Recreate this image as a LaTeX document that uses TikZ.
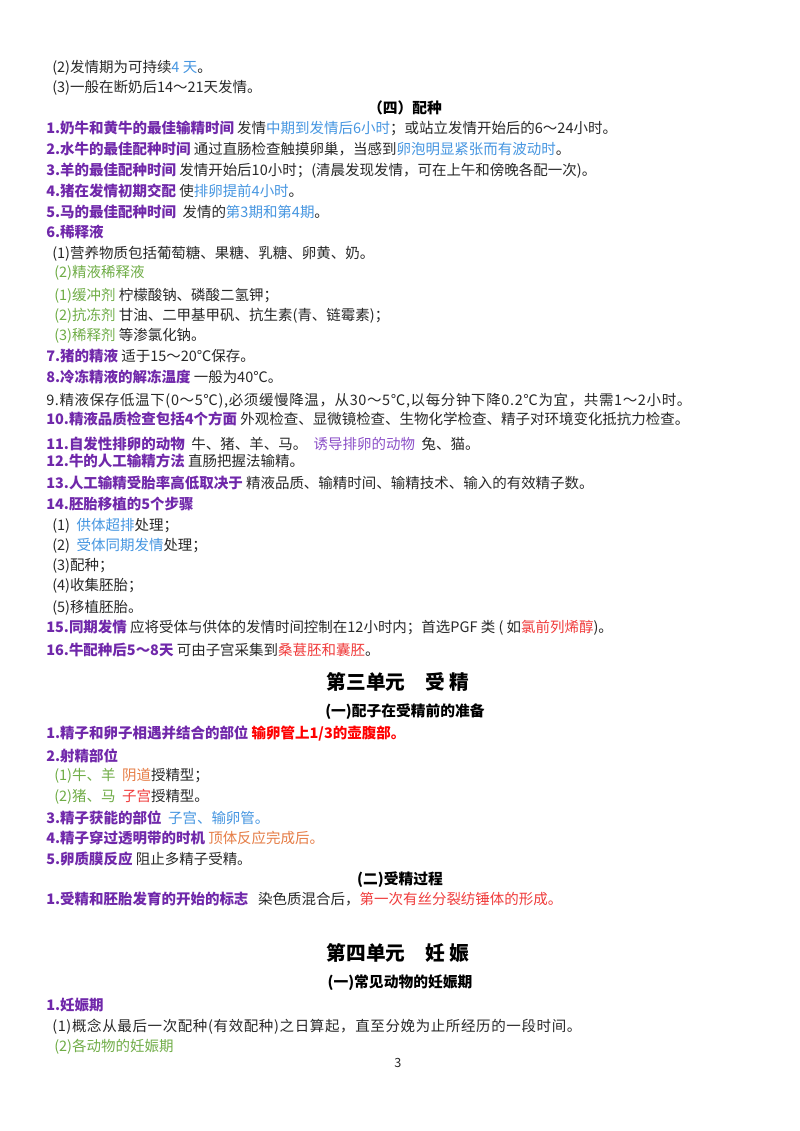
\documentclass[tikz,border=0pt]{standalone}
\usepackage{fontspec}
\setmainfont{Noto Sans CJK SC}
\definecolor{ink}{RGB}{40,40,40}
\definecolor{hdpurple}{RGB}{112,40,170}
\definecolor{lpurple}{RGB}{140,80,200}
\definecolor{lblue}{RGB}{70,150,225}
\definecolor{lgreen}{RGB}{112,173,71}
\definecolor{lred}{RGB}{240,60,60}
\definecolor{hred}{RGB}{255,0,0}
\definecolor{lorange}{RGB}{230,125,70}
\newcommand{\hd}[1]{\textcolor{hdpurple}{\bfseries #1}}
\newcommand{\blu}[1]{\textcolor{lblue}{#1}}
\newcommand{\grn}[1]{\textcolor{lgreen}{#1}}
\newcommand{\rdd}[1]{\textcolor{lred}{#1}}
\newcommand{\org}[1]{\textcolor{lorange}{#1}}
\tikzset{
    txt/.style={anchor=west,inner sep=0pt,text=ink,font=\fontsize{10.3}{12}\selectfont},
    wide/.style={txt,font=\fontsize{10.3}{12}\selectfont\addfontfeatures{LetterSpace=4.4}},
    ttl/.style={inner sep=0pt,font=\fontsize{14}{16}\selectfont\bfseries},
    sub/.style={inner sep=0pt,font=\fontsize{10.5}{12}\selectfont\bfseries}
}
\begin{document}
\begin{tikzpicture}[x=0.025cm,y=-0.025cm]
            \path[fill=white] (0,0) rectangle (800,1131);
            \node[txt] (est2) at (52,68) {(2)发情期为可持续\blu{4 天}。};
            \node[txt] (est3) at (52,88) {(3)一般在断奶后14～21天发情。};
            \node[sub] (sec4) at (405,108) {（四）配种};
            \node[txt] (mate1) at (46,128) {\hd{1.奶牛和黄牛的最佳输精时间} 发情\blu{中期到发情后6小时}；或站立发情开始后的6～24小时。};
            \node[txt] (mate2) at (46,149) {\hd{2.水牛的最佳配种时间} 通过直肠检查触摸卵巢，当感到\blu{卵泡明显紧张而有波动时}。};
            \node[txt] (mate3) at (46,171) {\hd{3.羊的最佳配种时间} 发情开始后10小时；(清晨发现发情，可在上午和傍晚各配一次)。};
            \node[txt] (mate4) at (46,191) {\hd{4.猪在发情初期交配} 使\blu{排卵提前4小时}。};
            \node[txt] (mate5) at (46,212) {\hd{5.马的最佳配种时间}\ \ 发情的\blu{第3期和第4期}。};
            \node[txt] (dil) at (46,232) {\hd{6.稀释液}};
            \node[txt] (dil1) at (52,254) {(1)营养物质包括葡萄糖、果糖、乳糖、卵黄、奶。};
            \node[txt] (dil2) at (54,273) {\grn{(2)精液稀释液}};
            \node[txt] (dila) at (54,296) {\grn{(1)缓冲剂} 柠檬酸钠、磷酸二氢钾；};
            \node[txt] (dilb) at (54,316) {\grn{(2)抗冻剂} 甘油、二甲基甲矾、抗生素(青、链霉素)；};
            \node[txt] (dilc) at (54,336) {\grn{(3)稀释剂} 等渗氯化钠。};
            \node[txt] (it7) at (46,356) {\hd{7.猪的精液} 适于15～20℃保存。};
            \node[txt] (it8) at (46,377) {\hd{8.冷冻精液的解冻温度} 一般为40℃。};
            \node[wide] (it9) at (46,401) {9.精液保存低温下(0～5℃),必须缓慢降温，从30～5℃,以每分钟下降0.2℃为宜，共需1～2小时。};
            \node[txt] (it10) at (46,419) {\hd{10.精液品质检查包括4个方面} 外观检查、显微镜检查、生物化学检查、精子对环境变化抵抗力检查。};
            \node[txt] (it11) at (46,444) {\hd{11.自发性排卵的动物}\ \ 牛、猪、羊、马。\ \ \textcolor{lpurple}{诱导排卵的动物}\ \ 兔、猫。};
            \node[txt] (it12) at (46,461) {\hd{12.牛的人工输精方法} 直肠把握法输精。};
            \node[txt] (it13) at (46,483) {\hd{13.人工输精受胎率高低取决于} 精液品质、输精时间、输精技术、输入的有效精子数。};
            \node[txt] (it14) at (46,504) {\hd{14.胚胎移植的5个步骤}};
            \node[txt] (st1) at (52,526) {(1)\ \ \blu{供体超排}处理；};
            \node[txt] (st2) at (52,546) {(2)\ \ \blu{受体同期发情}处理；};
            \foreach \y/\n/\t [count=\i from 3] in {566/3/配种；,586/4/收集胚胎；,608/5/移植胚胎。}{
                \node[txt] (st\i) at (52,\y) {(\n)\t};
            }
            \node[txt] (it15) at (46,628) {\hd{15.同期发情} 应将受体与供体的发情时间控制在12小时内；首选PGF 类 ( 如\rdd{氯前列烯醇})。};
            \node[txt] (it16) at (46,650) {\hd{16.牛配种后5～8天} 可由子宫采集到\rdd{桑葚胚和囊胚}。};
            \node[ttl] (unit3) at (398,682) {第三单元\quad 受\ 精};
            \node[sub] (fert1) at (405,712) {(一)配子在受精前的准备};
            \node[txt] (f1) at (46,733) {\hd{1.精子和卵子相遇并结合的部位} \textcolor{hred}{\bfseries 输卵管上1/3的壶腹部。}};
            \node[txt] (f2) at (46,756) {\hd{2.射精部位}};
            \node[txt] (f2a) at (54,776) {\grn{(1)牛、羊}\ \ \org{阴道}授精型；};
            \node[txt] (f2b) at (54,797) {\grn{(2)猪、马}\ \ \rdd{子宫}授精型。};
            \node[txt] (f3) at (46,818) {\hd{3.精子获能的部位}\ \ \blu{子宫、输卵管。}};
            \node[txt] (f4) at (46,838) {\hd{4.精子穿过透明带的时机} \org{顶体反应完成后。}};
            \node[txt] (f5) at (46,859) {\hd{5.卵质膜反应} 阻止多精子受精。};
            \node[sub] (fert2) at (400,880) {(二)受精过程};
            \node[txt] (g1) at (46,899) {\hd{1.受精和胚胎发育的开始的标志}\ \ \ 染色质混合后，\rdd{第一次有丝分裂纺锤体的形成。}};
            \node[ttl] (unit4) at (398,953) {第四单元\quad 妊\ 娠};
            \node[sub] (preg1) at (400,983) {(一)常见动物的妊娠期};
            \node[txt] (p1) at (46,1005) {\hd{1.妊娠期}};
            \node[wide] (p1a) at (52,1027) {(1)概念从最后一次配种(有效配种)之日算起，直至分娩为止所经历的一段时间。};
            \node[txt] (p1b) at (54,1047) {\grn{(2)各动物的妊娠期}};
            \node[txt,anchor=center,font=\fontsize{9}{10}\selectfont] (page) at (398,1063) {3};
        \end{tikzpicture}
\end{document}
